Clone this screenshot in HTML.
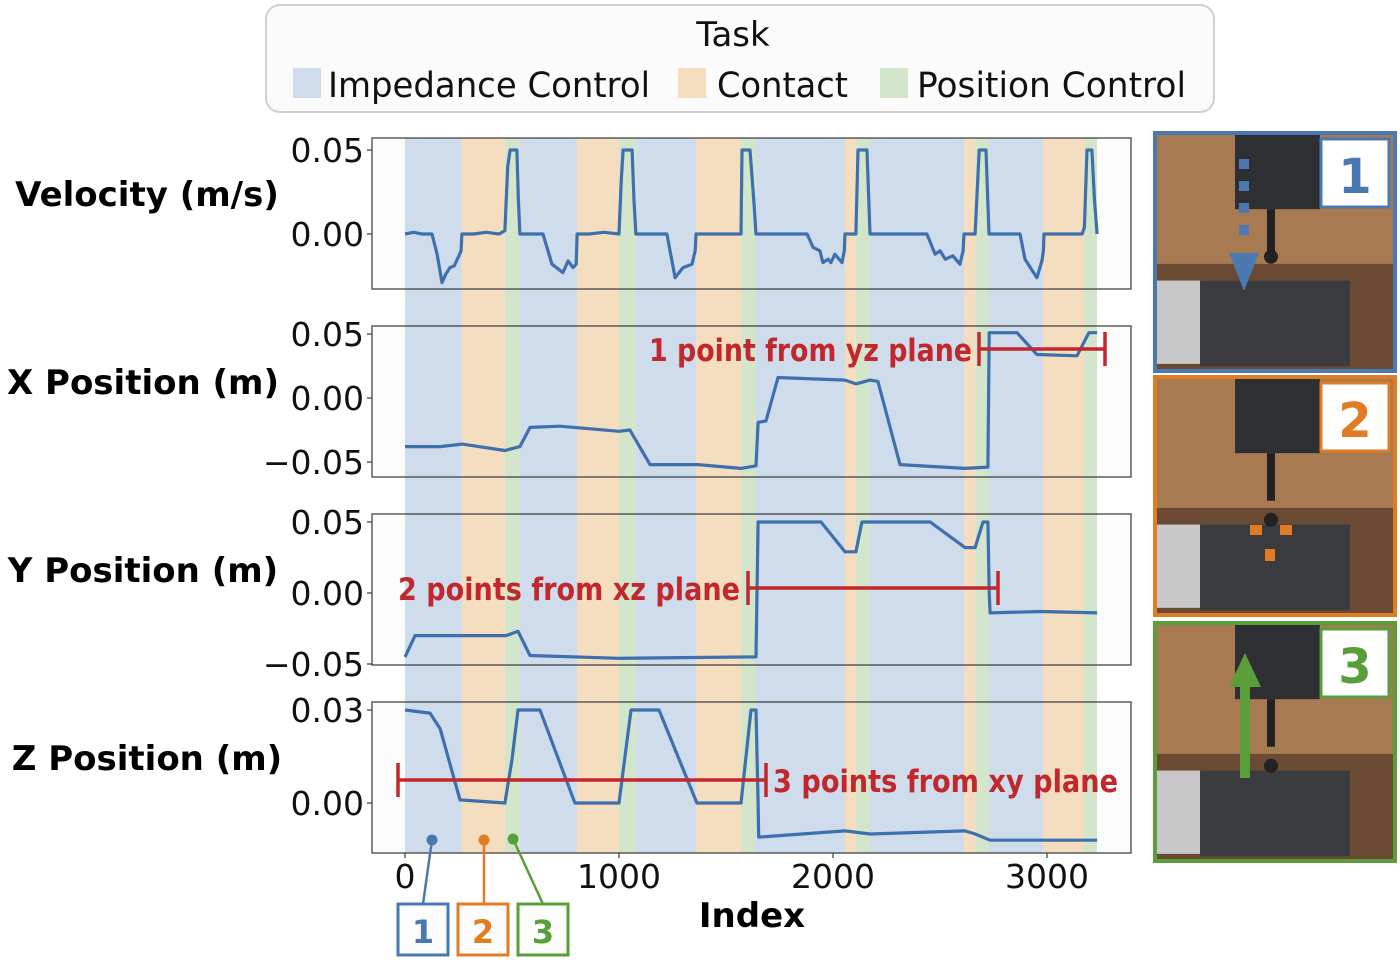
<!DOCTYPE html>
<html><head><meta charset="utf-8">
<style>
body{margin:0;background:#fff;width:1400px;height:960px;overflow:hidden;font-family:"Liberation Sans","DejaVu Sans",sans-serif;}
svg{position:absolute;left:0;top:0}
</style></head>
<body>
<svg id="fig" width="1400" height="960" font-family="DejaVu Sans, Liberation Sans, sans-serif">
  <g id="legend">
    <rect x="266" y="5" width="948" height="107" rx="14" fill="#fbfbfb" stroke="#d0d0d0" stroke-width="2"/>
    <text x="733" y="46" font-size="34" text-anchor="middle" fill="#111">Task</text>
    <rect x="293" y="68" width="28" height="30" fill="#cfdcec"/>
    <text x="328" y="97" font-size="35" fill="#111" textLength="322" lengthAdjust="spacingAndGlyphs">Impedance Control</text>
    <rect x="678" y="68" width="28" height="30" fill="#f5dec0"/>
    <text x="717" y="97" font-size="35" fill="#111" textLength="131" lengthAdjust="spacingAndGlyphs">Contact</text>
    <rect x="880" y="68" width="28" height="30" fill="#d3e6cb"/>
    <text x="917" y="97" font-size="35" fill="#111" textLength="269" lengthAdjust="spacingAndGlyphs">Position Control</text>
  </g>
  <g id="bands"></g>
  <g id="panels"></g>
  <g id="annot"></g>
  <g id="photos"></g>
</svg>
<script>
// ---- data ----
const bandEdges = [0,266,467,537,804,1000,1079,1360,1570,1640,2056,2107,2173,2612,2664,2729,2981,3173,3234];
const bandTypes = ['imp','con','pos','imp','con','pos','imp','con','pos','imp','con','pos','imp','con','pos','imp','con','pos'];
const velIdx = [0,40,80,126,150,173,190,210,230,248,262,266,320,380,440,467,480,491,523,530,537,580,645,687,738,762,785,800,804,860,930,1000,1010,1019,1061,1070,1079,1150,1224,1262,1299,1341,1356,1360,1450,1570,1575,1612,1630,1640,1750,1879,1907,1939,1953,1977,1990,2009,2042,2053,2056,2107,2117,2159,2173,2300,2439,2477,2500,2525,2560,2593,2608,2612,2664,2683,2715,2729,2800,2874,2897,2953,2976,2983,2986,3060,3164,3175,3187,3210,3222,3234];
const velVal = [0,0.001,0,0,-0.012,-0.029,-0.024,-0.020,-0.019,-0.014,-0.010,0,0,0.001,0,0.002,0.04,0.05,0.05,0.02,0,0,0,-0.018,-0.023,-0.016,-0.020,-0.018,0,0,0.001,0,0.03,0.05,0.05,0.02,0,0,0,-0.026,-0.020,-0.018,-0.010,0,0,0,0.05,0.05,0.02,0,0,0,-0.008,-0.010,-0.017,-0.015,-0.017,-0.012,-0.017,-0.010,0,0,0.05,0.05,0,0,0,-0.012,-0.010,-0.015,-0.013,-0.018,-0.010,0,0,0.05,0.05,0,0,0,-0.015,-0.026,-0.016,-0.010,0,0,0,0.004,0.05,0.05,0.02,0];
const xIdx = [0,164,267,467,537,584,724,1000,1051,1145,1369,1570,1640,1650,1687,1743,2056,2107,2173,2210,2313,2617,2724,2730,2860,2953,3140,3196,3234];
const xVal = [-0.038,-0.038,-0.036,-0.041,-0.038,-0.023,-0.022,-0.026,-0.025,-0.052,-0.052,-0.055,-0.053,-0.019,-0.018,0.016,0.014,0.011,0.014,0.013,-0.052,-0.055,-0.054,0.051,0.051,0.034,0.033,0.051,0.051];
const yIdx = [0,47,267,473,528,584,1000,1640,1645,1650,1944,2056,2107,2135,2454,2617,2664,2701,2724,2730,2734,2972,3234];
const yVal = [-0.045,-0.030,-0.030,-0.030,-0.027,-0.044,-0.046,-0.045,0.0,0.050,0.050,0.029,0.029,0.050,0.050,0.032,0.032,0.050,0.050,0.0,-0.014,-0.013,-0.014];
const zIdx = [0,117,164,257,467,500,528,631,794,1000,1056,1187,1364,1570,1617,1640,1650,1653,2056,2173,2617,2664,2734,3000,3234];
const zVal = [0.030,0.029,0.024,0.001,0.0,0.014,0.030,0.030,0.0,0.0,0.030,0.030,0.0,0.0,0.030,0.030,0.0,-0.011,-0.009,-0.010,-0.009,-0.010,-0.012,-0.012,-0.012];
const xTicks = [0,1000,2000,3000];

// ---- layout ----
const NS='http://www.w3.org/2000/svg';
const X0=405, XS=0.214, PL=372, PR=1131;
const sx = i => X0 + i*XS;
function mk(tag, attrs, parent){const e=document.createElementNS(NS,tag);for(const k in attrs)e.setAttribute(k,attrs[k]);parent.appendChild(e);return e;}
const colors={imp:'#cfdcec',con:'#f5dec0',pos:'#d3e6cb'};
const bg=document.getElementById('bands');
for(let i=0;i<bandTypes.length;i++){
  const r=mk('rect',{x:sx(bandEdges[i]),y:138,width:sx(bandEdges[i+1])-sx(bandEdges[i]),height:715,fill:colors[bandTypes[i]]},bg);
  
  
}
const panels=[
 {name:'velocity',top:138,y0:234,ppu:84/0.05,label:'Velocity (m/s)',lx:147,ly:206,ticks:[[0.05,'0.05'],[0,'0.00']],idx:velIdx,val:velVal},
 {name:'x-position',top:326,y0:398,ppu:64/0.05,label:'X Position (m)',lx:143,ly:394,ticks:[[0.05,'0.05'],[0,'0.00'],[-0.05,'\u22120.05']],idx:xIdx,val:xVal},
 {name:'y-position',top:514,y0:593,ppu:71/0.05,label:'Y Position (m)',lx:143,ly:582,ticks:[[0.05,'0.05'],[0,'0.00'],[-0.05,'\u22120.05']],idx:yIdx,val:yVal},
 {name:'z-position',top:702,y0:803,ppu:93/0.03,label:'Z Position (m)',lx:147,ly:770,ticks:[[0.03,'0.03'],[0,'0.00']],idx:zIdx,val:zVal}
];
const pg=document.getElementById('panels');
panels.forEach(p=>{
  const g=mk('g',{},pg);
  
  
  mk('rect',{x:PL+1,y:p.top+1,width:sx(0)-PL-1,height:150,fill:'#fcfcfc'},g);
  mk('rect',{x:sx(3234),y:p.top+1,width:PR-sx(3234)-1,height:150,fill:'#fcfcfc'},g);
  const sy=v=>p.y0-v*p.ppu;
  let d='';
  p.idx.forEach((ix,k)=>{d+=(k?'L':'M')+sx(ix).toFixed(1)+' '+sy(p.val[k]).toFixed(1);});
  const line=mk('path',{d:d,fill:'none',stroke:'#3f70ae',"stroke-width":3.2,"stroke-linejoin":'round'},g);
  
  
  mk('rect',{x:PL,y:p.top,width:PR-PL,height:151,fill:'none',stroke:'#444','stroke-width':1.3},g);
  p.ticks.forEach(t=>{
    const y=sy(t[0]);
    mk('line',{x1:PL-5,x2:PL,y1:y,y2:y,stroke:'#444','stroke-width':1.3},g);
    const tx=mk('text',{x:PL-8,y:y+12,'font-size':33,'text-anchor':'end',fill:'#111'},g);
    tx.textContent=t[1];
    
    
  });
  const lb=mk('text',{x:p.lx,y:p.ly,'font-size':34,'font-weight':'bold','text-anchor':'middle',fill:'#000'},g);
  lb.textContent=p.label;
  
  
});
xTicks.forEach(t=>{
  mk('line',{x1:sx(t),x2:sx(t),y1:853,y2:858,stroke:'#444','stroke-width':1.3},pg);
  const tx=mk('text',{x:sx(t),y:888,'font-size':33,'text-anchor':'middle',fill:'#111'},pg);
  tx.textContent=t;
  
  
});
const xt=mk('text',{x:752,y:927,'font-size':34,'font-weight':'bold','text-anchor':'middle',fill:'#000'},pg);
xt.textContent='Index';



// annotations
const ag=document.getElementById('annot');
const red='#c0282d';
function bracket(x1,x2,y,name){
  const g=mk('g',{stroke:red,'stroke-width':3.5},ag);
  
  
  mk('line',{x1:x1,x2:x2,y1:y,y2:y},g);
  mk('line',{x1:x1,x2:x1,y1:y-17,y2:y+17},g);
  mk('line',{x1:x2,x2:x2,y1:y-17,y2:y+17},g);
}
function rtext(x,y,s,len,name){
  const t=mk('text',{x:x,y:y,'font-size':31,'font-weight':'bold',fill:red,textLength:len,lengthAdjust:'spacingAndGlyphs'},ag);
  t.textContent=s;
  
  
}
bracket(979,1105,349,'yz-plane-bracket');
rtext(649,361,'1 point from yz plane',323,'yz-plane-label');
bracket(748,998,588,'xz-plane-bracket');
rtext(398,600,'2 points from xz plane',342,'xz-plane-label');
bracket(398,766,780,'xy-plane-bracket');
rtext(773,792,'3 points from xy plane',345,'xy-plane-label');

// markers
const marks=[[432,840,423,'#4a78b0','1'],[484,840,484,'#e07d22','2'],[513,839,543,'#5a9e3a','3']];
marks.forEach((m,k)=>{
  const g=mk('g',{},ag);
  
  
  mk('line',{x1:m[0],y1:m[1],x2:m[2],y2:904,stroke:m[3],'stroke-width':2.5},g);
  mk('circle',{cx:m[0],cy:m[1],r:5.5,fill:m[3]},g);
  const bx=398+k*60;
  mk('rect',{x:bx,y:904,width:50,height:51,fill:'#fcfcfc',stroke:m[3],'stroke-width':3},g);
  const t=mk('text',{x:bx+25,y:943,'font-size':32,'font-weight':'bold','text-anchor':'middle',fill:m[3]},g);
  t.textContent=m[4];
});

// photos
const ph=document.getElementById('photos');
const photos=[[133,'#4a78b0','1'],[377,'#e07d22','2'],[623,'#5a9e3a','3']];
photos.forEach((p,k)=>{
  const y=p[0], h=238, x=1155, w=240;
  const g=mk('g',{},ph);
  
  
  mk('rect',{x:x,y:y,width:w,height:h,fill:'#a87a52'},g);
  mk('rect',{x:x,y:y+h*0.55,width:w,height:h*0.45,fill:'#6a4a33'},g);
  mk('rect',{x:x,y:y+h*0.62,width:50,height:h*0.35,fill:'#c8c8c8'},g);
  mk('rect',{x:x+45,y:y+h*0.62,width:150,height:h*0.36,fill:'#3a3b3f'},g);
  mk('rect',{x:x+80,y:y,width:85,height:h*0.32,fill:'#2e2f33'},g);
  mk('rect',{x:x+112,y:y+h*0.32,width:8,height:h*0.2,fill:'#222'},g);
  mk('circle',{cx:x+116,cy:y+h*(k==0?0.52:0.6),r:7,fill:'#222'},g);
  if(k==0){
    for(let j=0;j<4;j++) mk('rect',{x:x+84,y:y+26+j*22,width:10,height:10,fill:'#4a78b0'},g);
    mk('polygon',{points:(x+74)+','+(y+120)+' '+(x+104)+','+(y+120)+' '+(x+89)+','+(y+158),fill:'#4a78b0'},g);
  } else if(k==1){
    mk('rect',{x:x+95,y:y+148,width:12,height:10,fill:'#e07d22'},g);
    mk('rect',{x:x+125,y:y+148,width:12,height:10,fill:'#e07d22'},g);
    mk('rect',{x:x+110,y:y+172,width:10,height:12,fill:'#e07d22'},g);
  } else {
    mk('rect',{x:x+85,y:y+60,width:10,height:95,fill:'#5a9e3a'},g);
    mk('polygon',{points:(x+74)+','+(y+64)+' '+(x+106)+','+(y+64)+' '+(x+90)+','+(y+30),fill:'#5a9e3a'},g);
  }
  mk('rect',{x:x+166,y:y+6,width:68,height:68,fill:'#fff',stroke:p[1],'stroke-width':3},g);
  const t=mk('text',{x:x+200,y:y+60,'font-size':48,'font-weight':'bold','text-anchor':'middle',fill:p[1]},g);
  t.textContent=p[2];
  mk('rect',{x:x,y:y,width:w,height:h,fill:'none',stroke:p[1],'stroke-width':4},g);
});
</script>
</body></html>
